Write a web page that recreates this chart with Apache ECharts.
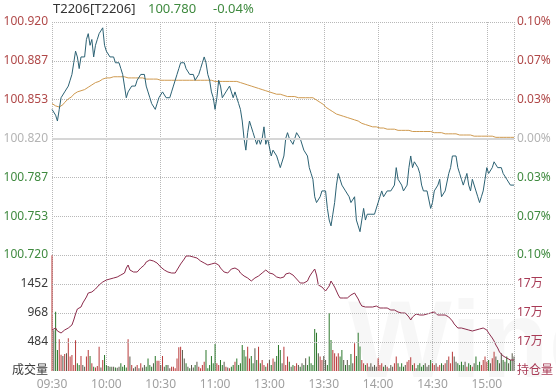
<!DOCTYPE html>
<html>
<head>
<meta charset="utf-8">
<script src="https://cdn.jsdelivr.net/npm/echarts@6/dist/echarts.min.js"></script>
<style>
html,body{margin:0;padding:0;background:#fff;}
#main{width:556px;height:392px;}
</style>
</head>
<body>
<div id="main"></div>
<script>
// ---------- data ----------
const sessions = [['09:30', 120], ['13:00', 136]]; // start time, number of 1-minute points
const tickLabels = ['09:30','10:00','10:30','11:00','13:00','13:30','14:00','14:30','15:00'];
const prevSettle = 100.820;
const titleCode = 'T2206[T2206]';
const titleLast = '100.780';
const titleChg = '-0.04%';

const price = [
100.845,100.845,100.840,100.835,100.845,100.855,100.855,100.860,100.860,100.865,
100.870,100.875,100.885,100.895,100.890,100.880,100.890,100.890,100.890,100.905,
100.910,100.900,100.905,100.890,100.900,100.905,100.910,100.910,100.915,100.900,
100.895,100.895,100.890,100.890,100.890,100.885,100.885,100.885,100.880,100.875,
100.865,100.855,100.860,100.860,100.865,100.865,100.865,100.870,100.870,100.875,
100.875,100.875,100.865,100.860,100.855,100.850,100.850,100.845,100.850,100.855,
100.855,100.860,100.860,100.855,100.855,100.855,100.860,100.865,100.870,100.875,
100.880,100.885,100.885,100.885,100.880,100.880,100.875,100.875,100.875,100.870,
100.870,100.875,100.880,100.885,100.890,100.885,100.875,100.870,100.860,100.855,
100.845,100.855,100.870,100.865,100.855,100.855,100.860,100.860,100.865,100.860,
100.855,100.860,100.855,100.850,100.845,100.835,100.820,100.810,100.825,100.835,
100.830,100.825,100.825,100.815,100.820,100.815,100.820,100.830,100.815,100.820,
100.820,100.805,100.810,100.810,100.805,100.800,100.795,100.795,100.805,100.820,
100.825,100.820,100.820,100.815,100.820,100.825,100.825,100.820,100.820,100.810,
100.810,100.805,100.795,100.790,100.785,100.770,100.765,100.765,100.770,100.775,
100.775,100.775,100.760,100.750,100.745,100.755,100.765,100.780,100.790,100.785,
100.780,100.780,100.775,100.775,100.770,100.765,100.765,100.770,100.750,100.745,
100.740,100.750,100.760,100.750,100.755,100.755,100.755,100.755,100.755,100.755,
100.765,100.770,100.775,100.770,100.770,100.775,100.775,100.775,100.775,100.780,
100.795,100.785,100.785,100.780,100.775,100.775,100.780,100.795,100.805,100.795,
100.800,100.800,100.795,100.790,100.780,100.775,100.775,100.775,100.775,100.760,
100.765,100.775,100.775,100.780,100.785,100.770,100.770,100.775,100.775,100.790,
100.795,100.805,100.805,100.805,100.795,100.790,100.785,100.780,100.780,100.790,
100.780,100.775,100.785,100.785,100.775,100.770,100.765,100.770,100.775,100.785,
100.795,100.790,100.790,100.795,100.800,100.800,100.795,100.795,100.795,100.790,
100.790,100.785,100.785,100.780,100.780,100.780
];

const avgPrice = [
100.850,100.849,100.848,100.847,100.847,100.848,100.849,100.851,100.852,100.854,
100.855,100.856,100.858,100.859,100.860,100.861,100.861,100.862,100.862,100.863,
100.864,100.865,100.866,100.867,100.868,100.869,100.869,100.870,100.871,100.871,
100.872,100.872,100.872,100.873,100.873,100.873,100.873,100.873,100.873,100.873,
100.873,100.873,100.872,100.872,100.872,100.872,100.872,100.872,100.872,100.872,
100.872,100.872,100.871,100.871,100.871,100.871,100.871,100.871,100.871,100.870,
100.870,100.870,100.870,100.870,100.870,100.870,100.870,100.870,100.870,100.870,
100.870,100.870,100.870,100.870,100.870,100.870,100.870,100.870,100.870,100.870,
100.870,100.870,100.870,100.870,100.870,100.870,100.870,100.870,100.870,100.869,
100.869,100.869,100.869,100.869,100.869,100.869,100.869,100.869,100.869,100.869,
100.869,100.869,100.869,100.868,100.868,100.868,100.867,100.867,100.866,100.866,
100.865,100.865,100.864,100.864,100.863,100.863,100.862,100.862,100.861,100.861,
100.860,100.860,100.859,100.859,100.858,100.858,100.858,100.857,100.857,100.857,
100.856,100.856,100.856,100.856,100.856,100.856,100.855,100.855,100.855,100.855,
100.855,100.855,100.855,100.855,100.855,100.854,100.853,100.852,100.851,100.850,
100.849,100.847,100.846,100.845,100.844,100.843,100.842,100.841,100.840,100.840,
100.839,100.839,100.838,100.838,100.837,100.837,100.837,100.836,100.835,100.835,
100.834,100.833,100.833,100.832,100.832,100.831,100.831,100.830,100.830,100.830,
100.829,100.829,100.829,100.829,100.828,100.828,100.828,100.828,100.828,100.828,
100.828,100.827,100.827,100.827,100.827,100.827,100.827,100.827,100.827,100.826,
100.826,100.826,100.826,100.826,100.826,100.826,100.826,100.826,100.826,100.826,
100.825,100.825,100.825,100.825,100.825,100.825,100.824,100.824,100.824,100.824,
100.824,100.824,100.824,100.824,100.824,100.823,100.823,100.823,100.823,100.823,
100.823,100.823,100.822,100.822,100.822,100.822,100.822,100.822,100.822,100.822,
100.822,100.822,100.822,100.822,100.822,100.821,100.821,100.821,100.821,100.821,
100.821,100.821,100.821,100.821,100.821,100.821
];

const volume = [
1930,680,990,350,530,270,250,285,295,545,
240,265,100,515,130,100,250,100,70,240,
350,250,130,70,60,85,405,60,185,265,
100,85,70,70,70,60,55,70,130,70,
100,60,530,240,100,45,70,100,45,130,
60,100,70,210,100,70,130,250,170,170,
100,250,70,100,100,45,70,70,45,210,
395,405,350,210,130,70,45,100,60,100,
155,70,45,100,155,350,45,100,250,130,
450,130,100,185,100,155,70,60,45,70,
100,155,210,100,130,435,350,240,405,210,
250,130,380,185,405,130,185,100,70,130,
185,100,210,156,250,435,350,130,405,100,
240,156,72,100,84,128,100,72,128,100,
212,100,240,128,100,702,640,295,240,184,
250,184,100,964,518,351,295,240,295,240,
351,184,100,184,100,284,128,462,250,640,
407,184,128,100,128,72,128,72,100,72,
212,100,128,72,100,72,45,100,72,128,
240,128,72,128,72,100,156,184,230,100,
128,45,100,128,72,100,128,72,100,184,
128,100,128,72,100,128,100,128,184,240,
128,320,240,156,128,100,156,100,156,72,
128,100,72,128,240,100,156,100,184,240,
156,184,128,212,320,240,184,128,295,184,
156,240,128,184,295,240
];

const openInterest = [
171230,171260,171290,171200,171170,171140,171170,171230,171260,171290,
171350,171380,171530,171710,171860,171890,171920,172040,172130,172220,
172340,172280,172370,172430,172460,172490,172580,172640,172670,172700,
172730,172730,172760,172790,172790,172820,172820,172850,172880,172850,
172940,173090,173180,173030,173000,172970,172970,172970,173030,173090,
173120,173180,173270,173330,173330,173300,173300,173270,173240,173180,
173120,173090,173030,172970,172970,172970,172940,172940,172940,173030,
173120,173210,173270,173360,173450,173480,173450,173450,173420,173420,
173390,173360,173300,173270,173240,173210,173180,173180,173210,173240,
173240,173210,173180,173090,173030,172970,172940,172940,173000,173060,
173090,173090,173060,173030,172940,172880,172850,172820,172790,172730,
172700,172730,172790,172820,172850,172910,172940,173000,173030,172970,
172940,172940,172910,172850,172820,172790,172790,172790,172820,172910,
172940,172940,172910,172880,172820,172760,172700,172640,172640,172640,
172670,172700,172820,172910,172970,173060,172880,172580,172640,172520,
172460,172400,172370,172550,172700,172640,172520,172400,172280,172190,
172130,172190,172220,172190,172220,172280,172310,172340,172250,172160,
172040,171950,171920,171920,171920,171920,171920,171920,171920,171950,
171920,171890,171890,171890,171890,171890,171860,171830,171860,171830,
171800,171770,171770,171740,171740,171740,171710,171620,171530,171620,
171680,171710,171710,171680,171680,171680,171680,171710,171740,171740,
171770,171770,171740,171680,171680,171680,171680,171680,171650,171620,
171560,171500,171410,171350,171290,171290,171290,171260,171260,171260,
171230,171200,171200,171230,171230,171260,171260,171290,171290,171260,
171230,171140,171080,170990,170900,170780,170690,170570,170510,170450,
170420,170390,170360,170330,170330,170330
];

// ---------- build categories ----------
function pad(n){return (n<10?'0':'')+n;}
const times = [];
sessions.forEach(function(s){
  const p = s[0].split(':');
  let m = (+p[0])*60 + (+p[1]);
  for (let i=0;i<s[1];i++){ times.push(pad(Math.floor(m/60))+':'+pad(m%60)); m++; }
});

const pMin = 100.720, pMax = 100.920;
const pInt = (pMax - pMin)/6;
const vMax = 1936, vInt = 484;
const oiMin = 170000, oiInt = 870, oiMax = oiMin + 4*oiInt;

const RED = '#b04848', GREEN = '#3f8a3f', GRAY = '#b4b4b4';
const FONT = 'Noto Sans, Noto Sans CJK SC, sans-serif';

function priceColor(v){
  if (Math.abs(v - prevSettle) < 1e-6) return GRAY;
  return v > prevSettle ? RED : GREEN;
}

const barColors = volume.map(function(v,i){
  if (i===0) return '#b83a3a';
  if (price[i] > price[i-1]) return '#b83a3a';
  if (price[i] < price[i-1]) return '#2a772a';
  return '#5a5a4a';
});

const isTick = function(idx){ return tickLabels.indexOf(times[idx]) >= 0; };
const isVLine = function(idx){ return isTick(idx) || idx === times.length-1; };

const gridLine = {type:'dotted', color:'#b8b8b8', width:1};

const chart = echarts.init(document.getElementById('main'), null, {renderer:'canvas'});
chart.setOption({
  animation:false,
  backgroundColor:'#ffffff',
  textStyle:{fontFamily:FONT},
  graphic:[
    {type:'text', left:348, top:292, z:-10, silent:true,
     style:{text:'Wind', fill:'rgba(0,0,0,0.03)', font:'bold 110px Liberation Sans'}},
    {type:'text', left:53, top:3, style:{text:titleCode, fill:'#333', font:'13px '+FONT}},
    {type:'text', left:148, top:3, style:{text:titleLast, fill:GREEN, font:'13px '+FONT}},
    {type:'text', left:213, top:3, style:{text:titleChg, fill:GREEN, font:'13px '+FONT}}
  ],
  grid:[
    {left:52, right:42, top:22, height:233},
    {left:52, right:42, top:255, height:116}
  ],
  xAxis:[
    {type:'category', gridIndex:0, data:times, boundaryGap:false,
     axisLine:{show:false}, axisTick:{show:false}, axisLabel:{show:false},
     splitLine:{show:true, interval:function(i){return isVLine(i);}, lineStyle:gridLine}},
    {type:'category', gridIndex:1, data:times, boundaryGap:false,
     axisLine:{show:false}, axisTick:{show:false},
     axisLabel:{show:true, interval:function(i){return isTick(i);}, color:'#a0a0a0', fontSize:12, margin:8, fontFamily:FONT},
     splitLine:{show:true, interval:function(i){return isVLine(i);}, lineStyle:gridLine}}
  ],
  yAxis:[
    {type:'value', gridIndex:0, min:pMin, max:pMax, interval:pInt, position:'left',
     axisLine:{show:false}, axisTick:{show:false},
     axisLabel:{margin:4, fontSize:12, fontFamily:FONT,
       formatter:function(v){return v.toFixed(3);},
       color:function(v){return priceColor(+v);}},
     splitLine:{show:true, lineStyle:gridLine}},
    {type:'value', gridIndex:0, min:pMin, max:pMax, interval:pInt, position:'right',
     axisLine:{show:false}, axisTick:{show:false},
     axisLabel:{margin:3, fontSize:12, fontFamily:FONT,
       formatter:function(v){return Math.abs((v-prevSettle)/prevSettle*100).toFixed(2)+'%';},
       color:function(v){return priceColor(+v);}},
     splitLine:{show:false}},
    {type:'value', gridIndex:1, min:0, max:vMax, interval:vInt, position:'left',
     axisLine:{show:false}, axisTick:{show:false},
     axisLabel:{margin:4, fontSize:12, fontFamily:FONT, color:'#3a3a3a',
       formatter:function(v){ if (v===0) return '成交量'; if (v>=vMax) return ''; return String(v);} },
     splitLine:{show:false}},
    {type:'value', gridIndex:1, min:oiMin, max:oiMax, interval:oiInt, position:'right',
     axisLine:{show:false}, axisTick:{show:false},
     axisLabel:{margin:3, fontSize:12, fontFamily:FONT, color:'#a83a55',
       formatter:function(v){ if (v<=oiMin) return '持仓量'; if (v>=oiMax-1) return ''; return '17万';} },
     splitLine:{show:false}}
  ],
  series:[
    {type:'line', name:'均价', xAxisIndex:0, yAxisIndex:0, data:avgPrice, showSymbol:false,
     lineStyle:{color:'#cf9a50', width:1}, z:3},
    {type:'line', name:'价格', xAxisIndex:0, yAxisIndex:0, data:price, showSymbol:false,
     lineStyle:{color:'#2c6274', width:1}, z:4,
     markLine:{silent:true, symbol:'none', label:{show:false},
       lineStyle:{type:'solid', color:'#d6d6d6', width:2},
       data:[{yAxis:prevSettle}]}},
    {type:'bar', name:'成交量', xAxisIndex:1, yAxisIndex:2, barWidth:1,
     data:volume.map(function(v,i){return {value:v, itemStyle:{color:barColors[i]}};}),
     markLine:{silent:true, symbol:'none', label:{show:false},
       lineStyle:gridLine,
       data:[{yAxis:vInt},{yAxis:vInt*2},{yAxis:vInt*3}]}, z:2},
    {type:'line', name:'持仓量', xAxisIndex:1, yAxisIndex:3, data:openInterest, showSymbol:false,
     lineStyle:{color:'#8c2c4c', width:1}, z:4}
  ]
});
</script>
</body>
</html>
